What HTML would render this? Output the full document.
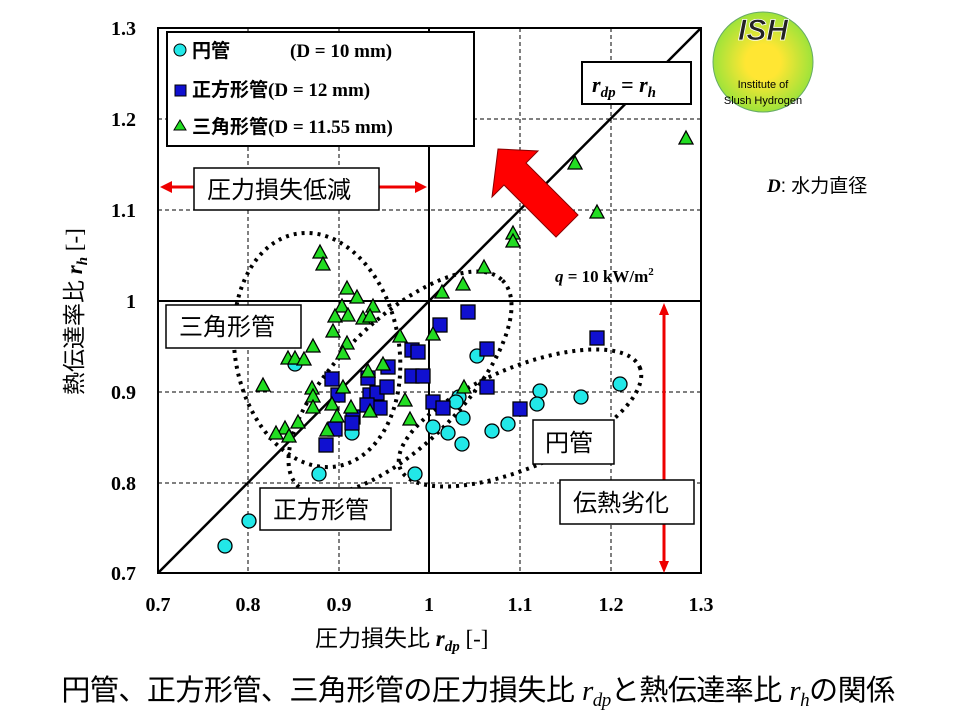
<!DOCTYPE html>
<html><head><meta charset="utf-8"><style>
body{margin:0;background:#fff;}
svg text{font-family:"Liberation Serif","Noto Serif CJK SC",serif;}
.j{font-family:"Liberation Sans","Noto Sans CJK JP",sans-serif;}
</style></head><body>
<svg width="960" height="720" viewBox="0 0 960 720" xmlns="http://www.w3.org/2000/svg">
<defs><radialGradient id="g"><stop offset="0.35" stop-color="#ffe633"/><stop offset="1" stop-color="#9ee33a"/></radialGradient>
<clipPath id="c"><rect x="158" y="28" width="543" height="545"/></clipPath></defs>
<rect x="0" y="0" width="960" height="720" fill="#fff"/>
<g stroke="#000" stroke-width="1" stroke-dasharray="4,3">
<line x1="248" y1="28" x2="248" y2="573"/><line x1="339" y1="28" x2="339" y2="573"/><line x1="520" y1="28" x2="520" y2="573"/><line x1="611" y1="28" x2="611" y2="573"/>
<line x1="158" y1="119" x2="701" y2="119"/><line x1="158" y1="210" x2="701" y2="210"/><line x1="158" y1="392" x2="701" y2="392"/><line x1="158" y1="483" x2="701" y2="483"/>
</g>
<line x1="429" y1="28" x2="429" y2="573" stroke="#000" stroke-width="2"/>
<line x1="158" y1="301" x2="701" y2="301" stroke="#000" stroke-width="2"/>
<line x1="158" y1="573" x2="701" y2="28" stroke="#000" stroke-width="2.5"/>
<g fill="none" stroke="#000" stroke-width="4" stroke-dasharray="3,5" clip-path="url(#c)">
<ellipse cx="317" cy="350" rx="82" ry="118" transform="rotate(-10 317 350)"/>
<ellipse cx="400" cy="383" rx="145" ry="62" transform="rotate(-45 400 383)"/>
<ellipse cx="520" cy="418" rx="130" ry="50" transform="rotate(-23 520 418)"/>
</g>
<g stroke="#000" stroke-width="1.3">
<g fill="#22e8e8">
<circle cx="225" cy="546" r="7"/><circle cx="249" cy="521" r="7"/><circle cx="295" cy="364" r="7"/><circle cx="319" cy="474" r="7"/><circle cx="352" cy="433" r="7"/><circle cx="415" cy="474" r="7"/>
<circle cx="477" cy="356" r="7"/><circle cx="459" cy="397" r="7"/><circle cx="456" cy="402" r="7"/><circle cx="540" cy="391" r="7"/><circle cx="537" cy="404" r="7"/><circle cx="581" cy="397" r="7"/><circle cx="620" cy="384" r="7"/><circle cx="463" cy="418" r="7"/><circle cx="433" cy="427" r="7"/><circle cx="448" cy="433" r="7"/><circle cx="462" cy="444" r="7"/><circle cx="492" cy="431" r="7"/><circle cx="508" cy="424" r="7"/>
</g>
<g fill="#1010d0">
<rect x="325" y="372" width="14" height="14"/><rect x="331" y="388" width="14" height="14"/><rect x="319" y="438" width="14" height="14"/><rect x="328" y="422" width="14" height="14"/><rect x="346" y="410" width="14" height="14"/><rect x="363" y="388" width="14" height="14"/><rect x="370" y="386" width="14" height="14"/><rect x="380" y="380" width="14" height="14"/><rect x="381" y="360" width="14" height="14"/><rect x="361" y="371" width="14" height="14"/><rect x="373" y="401" width="14" height="14"/><rect x="360" y="398" width="14" height="14"/><rect x="345" y="416" width="14" height="14"/>
<rect x="405" y="343" width="14" height="14"/><rect x="411" y="345" width="14" height="14"/><rect x="405" y="369" width="14" height="14"/><rect x="416" y="369" width="14" height="14"/><rect x="426" y="395" width="14" height="14"/><rect x="436" y="401" width="14" height="14"/><rect x="433" y="318" width="14" height="14"/><rect x="461" y="305" width="14" height="14"/><rect x="480" y="342" width="14" height="14"/><rect x="480" y="380" width="14" height="14"/><rect x="513" y="402" width="14" height="14"/><rect x="590" y="331" width="14" height="14"/>
</g>
<g fill="#22dd22">
<path d="M0,-8 L7,5 L-7,5Z" transform="translate(320,253)"/>
<path d="M0,-8 L7,5 L-7,5Z" transform="translate(323,265)"/><path d="M0,-8 L7,5 L-7,5Z" transform="translate(347,289)"/><path d="M0,-8 L7,5 L-7,5Z" transform="translate(357,298)"/><path d="M0,-8 L7,5 L-7,5Z" transform="translate(342,307)"/><path d="M0,-8 L7,5 L-7,5Z" transform="translate(335,317)"/><path d="M0,-8 L7,5 L-7,5Z" transform="translate(348,316)"/><path d="M0,-8 L7,5 L-7,5Z" transform="translate(373,307)"/><path d="M0,-8 L7,5 L-7,5Z" transform="translate(363,319)"/><path d="M0,-8 L7,5 L-7,5Z" transform="translate(370,317)"/><path d="M0,-8 L7,5 L-7,5Z" transform="translate(333,332)"/><path d="M0,-8 L7,5 L-7,5Z" transform="translate(313,347)"/><path d="M0,-8 L7,5 L-7,5Z" transform="translate(347,344)"/><path d="M0,-8 L7,5 L-7,5Z" transform="translate(343,354)"/><path d="M0,-8 L7,5 L-7,5Z" transform="translate(288,359)"/><path d="M0,-8 L7,5 L-7,5Z" transform="translate(295,359)"/><path d="M0,-8 L7,5 L-7,5Z" transform="translate(304,360)"/><path d="M0,-8 L7,5 L-7,5Z" transform="translate(263,386)"/><path d="M0,-8 L7,5 L-7,5Z" transform="translate(312,389)"/><path d="M0,-8 L7,5 L-7,5Z" transform="translate(313,397)"/><path d="M0,-8 L7,5 L-7,5Z" transform="translate(332,405)"/><path d="M0,-8 L7,5 L-7,5Z" transform="translate(343,388)"/><path d="M0,-8 L7,5 L-7,5Z" transform="translate(313,408)"/><path d="M0,-8 L7,5 L-7,5Z" transform="translate(368,372)"/><path d="M0,-8 L7,5 L-7,5Z" transform="translate(383,365)"/><path d="M0,-8 L7,5 L-7,5Z" transform="translate(351,408)"/><path d="M0,-8 L7,5 L-7,5Z" transform="translate(370,412)"/><path d="M0,-8 L7,5 L-7,5Z" transform="translate(337,417)"/><path d="M0,-8 L7,5 L-7,5Z" transform="translate(405,401)"/><path d="M0,-8 L7,5 L-7,5Z" transform="translate(410,420)"/><path d="M0,-8 L7,5 L-7,5Z" transform="translate(400,337)"/><path d="M0,-8 L7,5 L-7,5Z" transform="translate(433,335)"/><path d="M0,-8 L7,5 L-7,5Z" transform="translate(442,293)"/><path d="M0,-8 L7,5 L-7,5Z" transform="translate(298,423)"/><path d="M0,-8 L7,5 L-7,5Z" transform="translate(285,429)"/><path d="M0,-8 L7,5 L-7,5Z" transform="translate(276,434)"/><path d="M0,-8 L7,5 L-7,5Z" transform="translate(289,437)"/><path d="M0,-8 L7,5 L-7,5Z" transform="translate(327,431)"/><path d="M0,-8 L7,5 L-7,5Z" transform="translate(463,285)"/><path d="M0,-8 L7,5 L-7,5Z" transform="translate(464,388)"/><path d="M0,-8 L7,5 L-7,5Z" transform="translate(484,268)"/><path d="M0,-8 L7,5 L-7,5Z" transform="translate(513,234)"/><path d="M0,-8 L7,5 L-7,5Z" transform="translate(513,242)"/><path d="M0,-8 L7,5 L-7,5Z" transform="translate(575,164)"/><path d="M0,-8 L7,5 L-7,5Z" transform="translate(597,213)"/><path d="M0,-8 L7,5 L-7,5Z" transform="translate(686,139)"/>
</g></g>
<rect x="158" y="28" width="543" height="545" fill="none" stroke="#000" stroke-width="2"/>
<g font-size="20" font-weight="bold" text-anchor="middle">
<text x="158" y="611">0.7</text><text x="248" y="611">0.8</text><text x="339" y="611">0.9</text><text x="429" y="611">1</text><text x="520" y="611">1.1</text><text x="611" y="611">1.2</text><text x="701" y="611">1.3</text>
</g>
<g font-size="20" font-weight="bold" text-anchor="end">
<text x="136" y="35">1.3</text><text x="136" y="126">1.2</text><text x="136" y="217">1.1</text><text x="136" y="308">1</text><text x="136" y="399">0.9</text><text x="136" y="490">0.8</text><text x="136" y="580">0.7</text>
</g>
<text x="315" y="646" font-size="23"><tspan class="j">圧力損失比</tspan> <tspan font-style="italic" font-weight="bold">r<tspan font-size="15" dy="5">dp</tspan></tspan><tspan dy="-5"> [-]</tspan></text>
<text transform="translate(82,395) rotate(-90)" font-size="23"><tspan class="j">熱伝達率比</tspan> <tspan font-style="italic" font-weight="bold">r<tspan font-size="15" dy="5">h</tspan></tspan><tspan dy="-5"> [-]</tspan></text>
<rect x="167" y="32" width="307" height="114" fill="#fff" stroke="#000" stroke-width="2"/>
<circle cx="180" cy="50" r="6" fill="#22e8e8" stroke="#000"/>
<rect x="175" y="85" width="11" height="11" fill="#1010d0" stroke="#000"/>
<path d="M180,120 L186,130 L174,130Z" fill="#22dd22" stroke="#000"/>
<g font-size="19" font-weight="bold"><text x="192" y="57"><tspan class="j">円管</tspan><tspan x="290">(D = 10 mm)</tspan></text>
<text x="192" y="96"><tspan class="j">正方形管</tspan>(D = 12 mm)</text>
<text x="192" y="133"><tspan class="j">三角形管</tspan>(D = 11.55 mm)</text></g>
<g stroke="#e00" stroke-width="3" fill="#e00"><line x1="168" y1="187" x2="196" y2="187"/><line x1="378" y1="187" x2="418" y2="187"/>
<path d="M160,187 l12,-6 v12z" stroke="none"/><path d="M427,187 l-12,-6 v12z" stroke="none"/>
<line x1="664" y1="312" x2="664" y2="563"/><path d="M664,303 l-5,12 h10z" stroke="none"/><path d="M664,573 l-5,-12 h10z" stroke="none"/></g>
<g fill="#fff" stroke="#000" stroke-width="1.5"><rect x="194" y="168" width="185" height="42"/><rect x="166" y="305" width="135" height="43"/><rect x="533" y="420" width="81" height="44"/><rect x="260" y="488" width="131" height="42"/><rect x="560" y="480" width="134" height="44"/><rect x="582" y="62" width="109" height="42" stroke-width="2"/></g>
<g class="j" font-size="24"><text x="207" y="198" class="j">圧力損失低減</text><text x="179" y="335" class="j">三角形管</text><text x="545" y="451" class="j">円管</text><text x="273" y="518" class="j">正方形管</text><text x="573" y="511" class="j">伝熱劣化</text></g>
<text x="592" y="92" font-size="22" font-weight="bold" font-style="italic">r<tspan font-size="15" dy="5">dp</tspan><tspan dy="-5" font-style="normal"> = </tspan>r<tspan font-size="15" dy="5">h</tspan></text>
<text x="555" y="282" font-size="17" font-weight="bold"><tspan font-style="italic">q</tspan> = 10 kW/m<tspan font-size="11" dy="-7">2</tspan></text>
<text x="767" y="192" font-size="19"><tspan font-weight="bold" font-style="italic">D</tspan><tspan class="j">: 水力直径</tspan></text>
<polygon points="498,149 538,151 526,163 578,215 556,237 504,185 492,197" fill="#f00" stroke="#800" stroke-width="1"/>
<circle cx="763" cy="62" r="50" fill="url(#g)" stroke="#6a6" stroke-width="1"/>
<text x="763" y="40" font-size="30" font-weight="bold" font-style="italic" text-anchor="middle" fill="#222" stroke="#fff" stroke-width="0.8" style="font-family:'Liberation Sans',sans-serif">ISH</text>
<text x="763" y="88" font-size="11" text-anchor="middle" style="font-family:'Liberation Sans',sans-serif">Institute of</text>
<text x="763" y="104" font-size="11" text-anchor="middle" style="font-family:'Liberation Sans',sans-serif">Slush Hydrogen</text>
<text x="478" y="700" font-size="29" text-anchor="middle" letter-spacing="-0.5"><tspan class="j">円管、正方形管、三角形管の圧力損失比 </tspan><tspan font-style="italic">r<tspan font-size="19" dy="6">dp</tspan></tspan><tspan dy="-6" class="j">と熱伝達率比 </tspan><tspan font-style="italic">r<tspan font-size="19" dy="6">h</tspan></tspan><tspan dy="-6" class="j">の関係</tspan></text>
</svg>
</body></html>
